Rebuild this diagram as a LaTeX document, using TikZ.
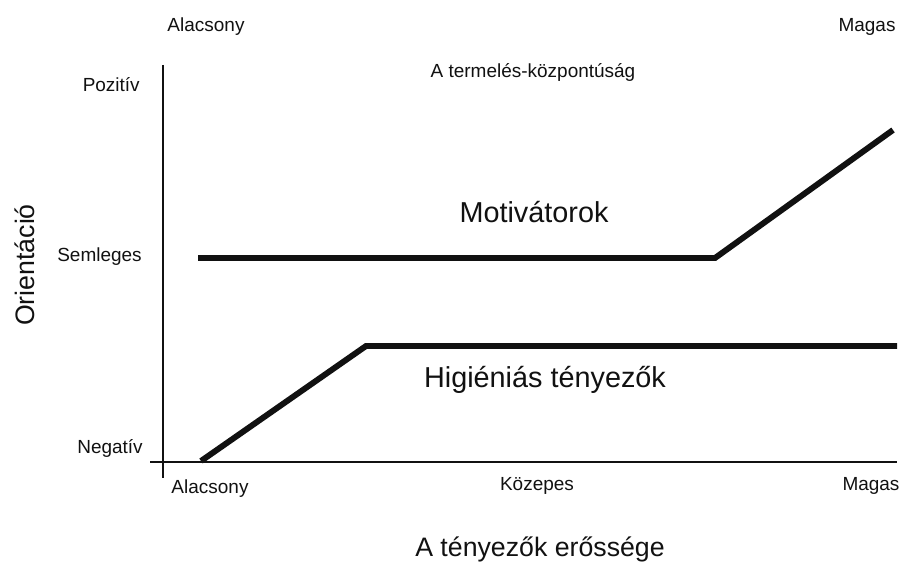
\documentclass[tikz,border=0pt]{standalone}
\usepackage{fontspec}
\setmainfont{Liberation Sans}
\usepackage{tikz}
\usetikzlibrary{positioning}
\definecolor{inkblack}{HTML}{111111}
\tikzset{
  axisline/.style={draw=inkblack, line width=1.3pt},
  curveline/.style={draw=inkblack, line width=4.2pt},
  ticklabel/.style={text=inkblack, font=\fontsize{13.5}{16}\selectfont, inner sep=0pt},
  curvelabel/.style={text=inkblack, font=\fontsize{20.5}{24}\selectfont, inner sep=0pt},
  axistitle/.style={text=inkblack, font=\fontsize{19}{23}\selectfont, inner sep=0pt}
}
\begin{document}
\begin{tikzpicture}
  \useasboundingbox (0,0) rectangle (22.525,14.075);

  % axes
  \coordinate (ytop) at (4.075,12.45);
  \coordinate (ybot) at (4.075,2.125);
  \coordinate (xleft) at (3.75,2.525);
  \coordinate (xright) at (22.425,2.525);
  \draw[axisline] (ytop) -- (ybot);
  \draw[axisline] (xleft) -- (xright);

  % curves
  \coordinate (mstart) at (4.95,7.625);
  \coordinate (mbend)  at (17.875,7.625);
  \coordinate (mend)   at (22.325,10.825);
  \draw[curveline] (mstart) -- (mbend) -- (mend);

  \coordinate (hstart) at (5.025,2.55);
  \coordinate (hbend)  at (9.15,5.425);
  \coordinate (hend)   at (22.425,5.425);
  \draw[curveline] (hstart) -- (hbend) -- (hend);

  % labels
  \node[ticklabel] (toplow)  at (5.15,13.4)   {Alacsony};
  \node[ticklabel] (tophigh) at (21.675,13.4) {Magas};
  \node[ticklabel] (toptitle) at (13.325,12.275) {A termelés-központúság};

  \node[ticklabel, anchor=east] (pos) at (3.5,11.95)  {Pozitív};
  \node[ticklabel, anchor=east] (neu) at (3.55,7.65)  {Semleges};
  \node[ticklabel, anchor=east] (neg) at (3.575,2.875) {Negatív};

  \node[ticklabel] (botlow)  at (5.25,1.85)   {Alacsony};
  \node[ticklabel] (botmid)  at (13.425,1.925) {Közepes};
  \node[ticklabel] (bothigh) at (21.775,1.925) {Magas};

  \node[curvelabel] (motiv) at (13.35,8.775)  {Motivátorok};
  \node[curvelabel] (hyg)   at (13.625,4.575) {Higiéniás tényezők};

  \node[axistitle, rotate=90] (ytitle) at (0.625,7.45) {Orientáció};
  \node[axistitle] (xtitle) at (13.5,0.35) {A tényezők erőssége};
\end{tikzpicture}
\end{document}
